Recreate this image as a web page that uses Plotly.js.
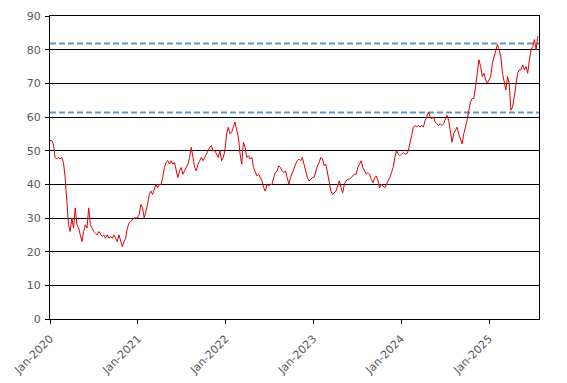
<!DOCTYPE html>
<html>
<head>
<meta charset="utf-8">
<script src="https://cdn.plot.ly/plotly-3.0.1.min.js"></script>
<style>html,body{margin:0;padding:0;background:#fff;}#chart{width:567px;height:383px;}</style>
</head>
<body>
<div id="chart"></div>
<script>
// Weekly closing values, starting 2020-01-01
var startDate = "2020-01-01";
var stepDays = 7;
var values2020 = [53,53,52,48,47.5,48,47.5,48,46.5,42,35,28,26,30,27,33,28,27,25,23,26,28,27,33,28,27,26,25.5,25,26,25,24.5,25,24,25,24,24.5,24,25,24,23,25,23,21.5,23,24,27,28.5,29,29.5,30,30,30];
var values2021 = [31,34,33,30,32,34,37,38,37,38.5,40,39,40,40,42,45,46.5,47,46,47,46,46.5,44,42,44,45,43,44,45,46,48,51,48,45,44,46,47,48,47,48,49,50,51,51.5,50,50,49,48,50,47,48,50];
var values2022 = [55,57,55,55.5,57,58.5,56,54,49,46,52.5,51,48,48.5,47.5,48,45,44,42.5,43,42,41,39,38,40,39.5,40,40,42,43.5,44,45.5,45,44,43.5,44,42,40,42,43.5,45,46,47,47.5,47,48,46,43.5,42,41,41.5,42];
var values2023 = [42,44,45.5,46.5,48,47.5,45.5,46,43,40,38,37,37.5,38,39.5,41,39,37.5,40,41,41.5,41.5,42,42.5,43,43,45,46,47,45,44,43,43.5,43,41.5,40.5,42,42.5,41,39,40,39.5,39,40,41,42,43.5,45,48,50,49,48.5];
var values2024 = [49,49.5,49,49,50,52,54.5,57,57.5,57,57.5,57,57.5,57,59,60,61.5,60,59.5,60,58.5,58,57.5,58,57.5,58,59.5,60.5,59,55,52.5,55,56,57,55,53.5,52,55,57,59,62,64.5,65.5,65.5,69,73,77,75,72,73,71,70];
var values2025 = [71,72,76,78,80,81.5,80,78,73,70,68,72,70,62,63,66,70,73,74,74,75.5,74,75,73,77,80,81,83,80,84];
var levels = [81.8, 61.3];
var xStart = "2020-01-01";
var xEnd = "2025-07-28";
var tickVals = ["2020-01-01","2021-01-01","2022-01-01","2023-01-01","2024-01-01","2025-01-01"];
var tickText = ["Jan-2020","Jan-2021","Jan-2022","Jan-2023","Jan-2024","Jan-2025"];

var values = [].concat(values2020, values2021, values2022, values2023, values2024, values2025);
var dates = [];
var t0 = new Date(startDate + "T00:00:00Z").getTime();
for (var i = 0; i < values.length; i++) {
  dates.push(new Date(t0 + i * stepDays * 86400000).toISOString().slice(0, 10));
}

var traces = [];
levels.forEach(function (lv) {
  traces.push({
    x: [xStart, xEnd], y: [lv, lv], type: "scatter", mode: "lines",
    line: {color: "#5f97c6", width: 2, dash: "6px,3px"},
    hoverinfo: "skip", showlegend: false
  });
});
traces.push({
  x: dates, y: values, type: "scatter", mode: "lines",
  line: {color: "#e00000", width: 1}, showlegend: false
});

var layout = {
  width: 567, height: 383,
  margin: {l: 50, r: 28, t: 16, b: 64},
  paper_bgcolor: "#fff", plot_bgcolor: "#fff",
  font: {family: "DejaVu Sans, Verdana, sans-serif", size: 11, color: "#595959"},
  showlegend: false,
  xaxis: {
    type: "date", range: [xStart, xEnd],
    tickvals: tickVals, ticktext: tickText, tickangle: -45,
    showgrid: false, zeroline: false,
    showline: true, linecolor: "#000", linewidth: 1, mirror: true,
    ticks: "outside", ticklen: 4, tickcolor: "#000",
    ticklabelstandoff: 4,
    tickfont: {size: 11, color: "#595959"}
  },
  yaxis: {
    range: [0, 90], tickvals: [0,10,20,30,40,50,60,70,80,90],
    showgrid: true, gridcolor: "#000", gridwidth: 1, zeroline: false,
    showline: true, linecolor: "#000", linewidth: 1, mirror: true,
    ticks: "outside", ticklen: 4, tickcolor: "#000",
    ticklabelstandoff: 2,
    tickfont: {size: 11, color: "#595959"}
  }
};

Plotly.newPlot("chart", traces, layout, {staticPlot: true, displayModeBar: false});
</script>
</body>
</html>
